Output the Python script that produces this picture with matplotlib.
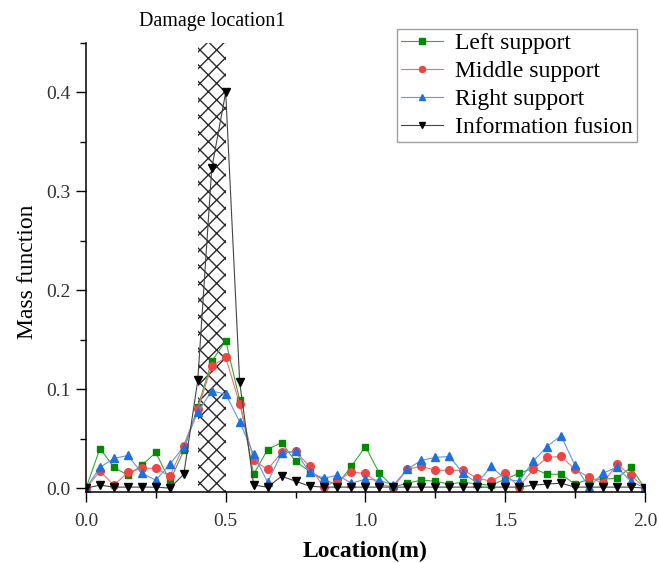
import numpy as np
import matplotlib.pyplot as plt
from matplotlib.ticker import MultipleLocator, FormatStrFormatter

plt.rcParams['font.family'] = ['Liberation Serif', 'DejaVu Serif']

loc = np.round(np.arange(0, 2.0001, 0.05), 2)

left = [0.000, 0.040, 0.021, 0.013, 0.023, 0.036, 0.007, 0.038, 0.082, 0.128, 0.149,
        0.089, 0.014, 0.039, 0.046, 0.027, 0.017, 0.008, 0.004, 0.022, 0.042,
        0.015, 0.001, 0.005, 0.008, 0.007, 0.004, 0.006, 0.004, 0.003, 0.009,
        0.015, 0.020, 0.014, 0.014, 0.004, 0.009, 0.009, 0.010, 0.021, 0.000]
middle = [0.000, 0.017, 0.003, 0.016, 0.020, 0.020, 0.012, 0.043, 0.080, 0.123, 0.132,
          0.085, 0.028, 0.019, 0.036, 0.037, 0.022, 0.001, 0.008, 0.016, 0.015,
          0.004, 0.001, 0.019, 0.022, 0.018, 0.018, 0.018, 0.010, 0.007, 0.015,
          0.001, 0.019, 0.031, 0.032, 0.019, 0.011, 0.005, 0.024, 0.013, 0.000]
right = [0.000, 0.021, 0.030, 0.033, 0.015, 0.008, 0.024, 0.042, 0.077, 0.098, 0.095,
         0.067, 0.034, 0.006, 0.035, 0.037, 0.016, 0.010, 0.013, 0.005, 0.009,
         0.008, 0.003, 0.019, 0.028, 0.031, 0.032, 0.015, 0.005, 0.022, 0.009,
         0.007, 0.027, 0.042, 0.053, 0.023, 0.001, 0.015, 0.021, 0.007, 0.000]
fusion = [0.000, 0.003, 0.001, 0.001, 0.001, 0.001, 0.000, 0.014, 0.109, 0.323, 0.400,
          0.107, 0.003, 0.001, 0.012, 0.007, 0.002, 0.001, 0.001, 0.001, 0.001,
          0.001, 0.001, 0.001, 0.001, 0.001, 0.001, 0.001, 0.001, 0.001, 0.001,
          0.001, 0.003, 0.004, 0.005, 0.001, 0.001, 0.001, 0.001, 0.001, 0.000]

fig = plt.figure(figsize=(6.59, 5.63), dpi=100)
ax = fig.add_axes([0.1305, 0.126, 0.848, 0.798])

# damage zone
ax.axvspan(0.4, 0.5, facecolor='none', edgecolor='#2a2a2a', hatch='xx', linewidth=0)

ax.plot(loc, left, '-s', color='#3aa83a', mfc='#008a00', mec='#008a00', lw=0.8, ms=5, label='Left support')
ax.plot(loc, middle, '-o', color='#f07070', mfc='#f04444', mec='#f04444', lw=0.8, ms=5.5, label='Middle support')
ax.plot(loc, right, '-^', color='#5a9ae8', mfc='#1f6fe0', mec='#1f6fe0', lw=0.8, ms=6, label='Right support')
ax.plot(loc, fusion, '-v', color='#444444', mfc='black', mec='black', lw=0.8, ms=6, label='Information fusion')

ax.set_xlim(0, 2.0)
ax.set_ylim(-0.004, 0.45)
ax.xaxis.set_major_locator(MultipleLocator(0.5))
ax.xaxis.set_minor_locator(MultipleLocator(0.25))
ax.yaxis.set_major_locator(MultipleLocator(0.1))
ax.yaxis.set_minor_locator(MultipleLocator(0.05))
ax.xaxis.set_major_formatter(FormatStrFormatter('%.1f'))
ax.yaxis.set_major_formatter(FormatStrFormatter('%.1f'))
ax.tick_params(which='major', length=7, width=1, direction='out', labelsize=14, labelcolor='#333333')
ax.tick_params(axis='x', which='major', pad=8)
ax.tick_params(axis='y', which='major', pad=4)
ax.tick_params(which='minor', length=4, width=1, direction='out')
ax.spines['top'].set_visible(False)
ax.spines['right'].set_visible(False)
for s in ['left', 'bottom']:
    ax.spines[s].set_linewidth(1.1)

ax.set_xlabel('Location(m)', fontsize=17, fontweight='bold', labelpad=8)
ax.set_ylabel('Mass function', fontsize=17)
ax.yaxis.set_label_coords(-0.085, 0.49)

ax.text(0.45, 0.462, 'Damage location1', ha='center', va='bottom', fontsize=14.5)

leg = ax.legend(loc='upper right', bbox_to_anchor=(0.966, 0.949), bbox_transform=fig.transFigure,
                fontsize=17, frameon=True, fancybox=False, handlelength=1.8,
                borderpad=0.15, labelspacing=0.28, handletextpad=0.5, borderaxespad=0,
                markerscale=0.8)
leg.get_frame().set_edgecolor('#888888')
leg.get_frame().set_linewidth(1.0)

fig.savefig('out.png', dpi=100)
